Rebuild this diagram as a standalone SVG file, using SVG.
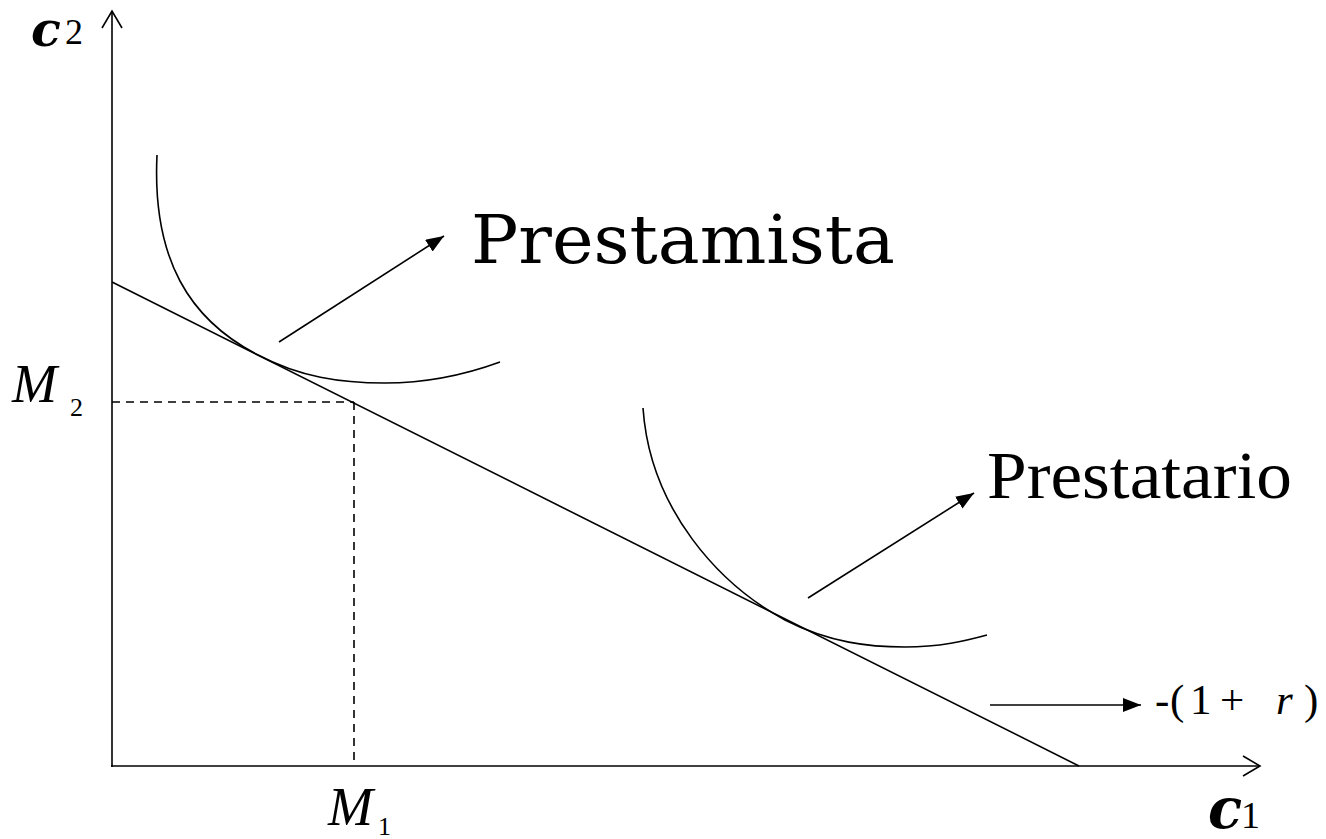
<svg xmlns="http://www.w3.org/2000/svg" width="1326" height="839" viewBox="0 0 1326 839">
<style>
.ln{fill:none;stroke:#000;stroke-width:1.6}
.ds{fill:none;stroke:#000;stroke-width:1.6;stroke-dasharray:8 6}
text{fill:#000}
.t{font-family:'Liberation Serif', 'Times New Roman', Times, serif}
.d{font-family:'DejaVu Serif', serif}
.i{font-style:italic}
</style>
<defs>
<marker id="tri" markerWidth="20" markerHeight="16" refX="18" refY="7" orient="auto" markerUnits="userSpaceOnUse">
<path d="M0,0 L18,7 L0,14 Z" fill="#000"/>
</marker>
</defs>
<rect width="1326" height="839" fill="#fff"/>
<g id="axes">
<line class="ln" x1="112" y1="767" x2="112" y2="11"/>
<polyline class="ln" points="102,28 112,11 122,28"/>
<line class="ln" x1="111" y1="766" x2="1259" y2="766"/>
<polyline class="ln" points="1243,756 1260,766 1243,776"/>
</g>
<g id="budget-line">
<line class="ln" x1="112" y1="282" x2="1079" y2="766"/>
</g>
<g id="guides">
<line class="ds" x1="112" y1="402" x2="354" y2="402"/>
<line class="ds" x1="354" y1="402" x2="354" y2="766"/>
</g>
<g id="curve-prestamista">
<path class="ln" d="M157,155 C152,260 190,320 258,355 C300,377 340,383 385,383 C430,383 470,373 500,362"/>
</g>
<g id="curve-prestatario">
<path class="ln" d="M643,408 C650,510 720,585 785,620 C830,643 870,647 905,647 C940,647 965,641 987,635"/>
</g>
<g id="connectors">
<line class="ln" x1="279" y1="342" x2="444" y2="236" marker-end="url(#tri)"/>
<line class="ln" x1="808" y1="598" x2="974" y2="493" marker-end="url(#tri)"/>
<line class="ln" x1="990" y1="705" x2="1141" y2="705" marker-end="url(#tri)"/>
</g>
<g id="label-prestamista">
<text class="d" x="471" y="263" font-size="68" textLength="424" lengthAdjust="spacingAndGlyphs">Prestamista</text>
</g>
<g id="label-prestatario">
<text class="t" x="987" y="498" font-size="67" textLength="305" lengthAdjust="spacingAndGlyphs">Prestatario</text>
</g>
<g id="label-slope">
<text class="t" y="714" font-size="43"><tspan x="1155">-</tspan><tspan x="1170">(</tspan><tspan x="1190">1</tspan><tspan x="1220">+</tspan><tspan x="1276" class="i">r</tspan><tspan x="1304">)</tspan></text>
</g>
<g id="label-c2">
<text class="d i" x="31" y="46" font-size="49" font-weight="bold">c</text>
<text class="t" x="65" y="44" font-size="36">2</text>
</g>
<g id="label-c1">
<text class="d i" x="1208" y="828" font-size="56" font-weight="bold">c</text>
<text class="t" x="1241" y="828" font-size="38">1</text>
</g>
<g id="label-M2">
<text class="t i" x="12" y="402" font-size="54">M</text>
<text class="t" x="70" y="416" font-size="26">2</text>
</g>
<g id="label-M1">
<text class="t i" x="328" y="825" font-size="54">M</text>
<text class="t" x="378" y="835" font-size="26">1</text>
</g>
</svg>
